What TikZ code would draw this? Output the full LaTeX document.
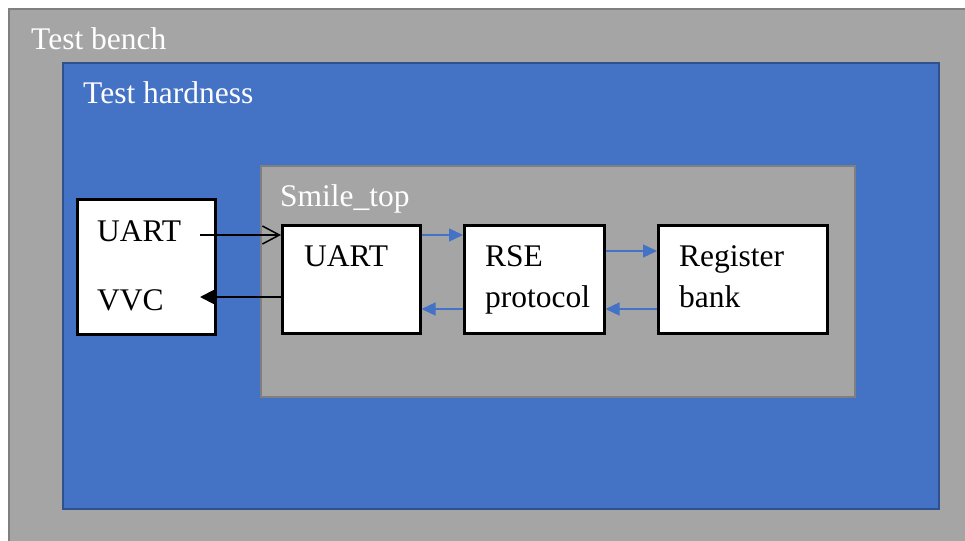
\documentclass[tikz,border=0pt]{standalone}
\usepackage{fontspec}
\setmainfont{Liberation Serif}
\usetikzlibrary{arrows.meta}
\definecolor{benchgray}{HTML}{A5A5A5}
\definecolor{benchline}{HTML}{7F7F7F}
\definecolor{harnblue}{HTML}{4472C4}
\definecolor{harnline}{HTML}{2F528F}
\begin{document}
\begin{tikzpicture}[x=1pt,y=-1pt,
  lbl/.style={anchor=base west,inner sep=0pt,font=\fontsize{31.5}{36}\selectfont},
  wlbl/.style={lbl,text=white},
  wbox/.style={draw=black,fill=white,line width=2.5pt,inner sep=0pt,anchor=north west},
  bluearr/.style={draw=harnblue,line width=1.4pt,-{Triangle[length=14pt,width=13pt]}},
]
\useasboundingbox (0,0) rectangle (965,540);
\fill[white] (0,0) rectangle (965,540);
\begin{scope}
\clip (0,0) rectangle (965,540);
\node[draw=benchline,fill=benchgray,line width=2pt,inner sep=0pt,anchor=north west,minimum width=980pt,minimum height=560pt] (bench) at (8,8) {};
\end{scope}
\node[draw=harnline,fill=harnblue,line width=2pt,inner sep=0pt,anchor=north west,minimum width=876pt,minimum height=446pt] (harness) at (62,62) {};
\node[draw=benchline,fill=benchgray,line width=2pt,inner sep=0pt,anchor=north west,minimum width=594pt,minimum height=231pt] (smile) at (260,165) {};
\node[wbox,minimum width=138pt,minimum height=135pt] (vvc) at (76,198) {};
\node[wbox,minimum width=138pt,minimum height=108pt] (uart) at (281,224) {};
\node[wbox,minimum width=140pt,minimum height=108pt] (rse) at (463,224) {};
\node[wbox,minimum width=169pt,minimum height=108pt] (reg) at (657,224) {};

\node[wlbl] (tbench) at (31,50) {Test bench};
\node[wlbl] (tharn) at (83,104) {Test hardness};
\node[wlbl] (tsmile) at (280,206) {Smile\_top};
\node[lbl] (tvuart) at (97,241) {UART};
\node[lbl] (tvvc) at (97,310) {VVC};
\node[lbl] (tuart) at (304,266) {UART};
\node[lbl] (trse) at (485,266) {RSE};
\node[lbl] (tproto) at (485,307) {protocol};
\node[lbl] (treg) at (679,266) {Register};
\node[lbl] (tbank) at (679,307) {bank};

\coordinate (a1) at (200,235);
\coordinate (a2) at (200,297);
\draw[line width=1.8pt,-{Straight Barb[length=17pt,width=18pt,line width=1.5pt]}] (a1) -- (a1 -| uart.west);
\draw[line width=1.8pt,-{Triangle[length=14pt,width=14pt]}] (uart.west |- a2) -- (a2);

\draw[bluearr] (uart.east |- 0,235) -- (rse.west |- 0,235);
\draw[bluearr] (rse.west |- 0,309) -- (uart.east |- 0,309);
\draw[bluearr] (rse.east |- 0,251) -- (reg.west |- 0,251);
\draw[bluearr] (reg.west |- 0,309) -- (rse.east |- 0,309);
\end{tikzpicture}
\end{document}
